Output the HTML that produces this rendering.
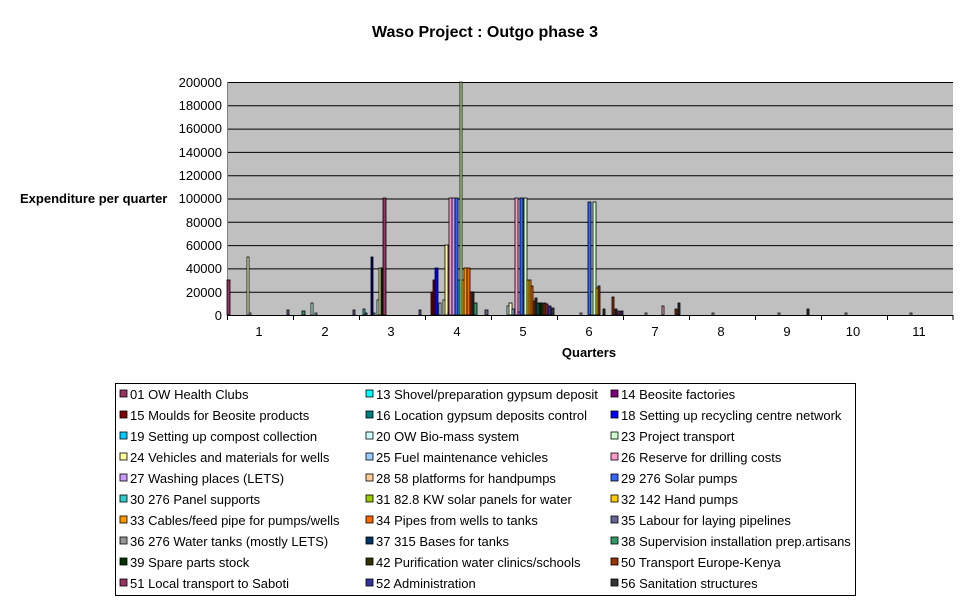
<!DOCTYPE html>
<html><head><meta charset="utf-8"><style>
body{margin:0;background:#fff;}
svg text{font-family:"Liberation Sans",Arial,sans-serif;}
</style></head><body>
<svg width="970" height="604" viewBox="0 0 970 604" xmlns="http://www.w3.org/2000/svg">
<rect width="970" height="604" fill="#fff"/>
<text x="485" y="37" font-size="16" font-weight="bold" text-anchor="middle">Waso Project : Outgo phase 3</text>
<rect x="227" y="82" width="726" height="233" fill="#c0c0c0"/>
<g stroke="#000" stroke-width="1">
<line x1="227" x2="953" y1="82.5" y2="82.5"/>
<line x1="227" x2="953" y1="105.8" y2="105.8"/>
<line x1="227" x2="953" y1="129.1" y2="129.1"/>
<line x1="227" x2="953" y1="152.4" y2="152.4"/>
<line x1="227" x2="953" y1="175.7" y2="175.7"/>
<line x1="227" x2="953" y1="199" y2="199"/>
<line x1="227" x2="953" y1="222.3" y2="222.3"/>
<line x1="227" x2="953" y1="245.6" y2="245.6"/>
<line x1="227" x2="953" y1="268.9" y2="268.9"/>
<line x1="227" x2="953" y1="292.2" y2="292.2"/>
</g>
<g stroke="#808080"><line x1="227.5" y1="82" x2="227.5" y2="315"/></g>
<g font-size="13" text-anchor="end">
<text x="222" y="87">200000</text><text x="222" y="110">180000</text><text x="222" y="133">160000</text>
<text x="222" y="157">140000</text><text x="222" y="180">120000</text><text x="222" y="203">100000</text>
<text x="222" y="227">80000</text><text x="222" y="250">60000</text><text x="222" y="273">40000</text>
<text x="222" y="297">20000</text><text x="222" y="320">0</text>
</g>
<g stroke="#000" stroke-width="0.8">
<rect x="227" y="280" width="3" height="35" fill="#993366"/>
<rect x="247" y="257" width="2" height="58" fill="#ffffcc"/>
<rect x="249" y="313" width="2" height="2" fill="#ccffff"/>
<rect x="287" y="310" width="2" height="5" fill="#666699"/>
<rect x="302" y="311" width="3" height="4" fill="#339966"/>
<rect x="311" y="303" width="2" height="12" fill="#ccffff"/>
<rect x="315" y="313" width="2" height="2" fill="#ccccff"/>
<rect x="353" y="310" width="2" height="5" fill="#666699"/>
<rect x="363" y="309" width="2" height="6" fill="#33cccc"/>
<rect x="365" y="313" width="2" height="2" fill="#008080"/>
<rect x="371" y="257" width="2" height="58" fill="#000080"/>
<rect x="373" y="313" width="2" height="2" fill="#33cccc"/>
<rect x="377" y="300" width="2" height="15" fill="#ccffff"/>
<rect x="379" y="268" width="2" height="47" fill="#ffff99"/>
<rect x="381" y="268" width="2" height="47" fill="#003300"/>
<rect x="383" y="198" width="3" height="117" fill="#993366"/>
<rect x="419" y="310" width="2" height="5" fill="#666699"/>
<rect x="431" y="292" width="2" height="23" fill="#800000"/>
<rect x="433" y="280" width="2" height="35" fill="#800000"/>
<rect x="435" y="268" width="3" height="47" fill="#0000ff"/>
<rect x="439" y="303" width="2" height="12" fill="#ccffff"/>
<rect x="443" y="300" width="2" height="15" fill="#ffffcc"/>
<rect x="445" y="245" width="3" height="70" fill="#ffff99"/>
<rect x="448" y="312" width="1" height="3" fill="#ccffff"/>
<rect x="449" y="198" width="3" height="117" fill="#ff99cc"/>
<rect x="452" y="198" width="3" height="117" fill="#cc99ff"/>
<rect x="455" y="198" width="3" height="117" fill="#3366ff"/>
<rect x="458" y="280" width="2" height="35" fill="#33cccc"/>
<rect x="460" y="82" width="2" height="233" fill="#ccff99"/>
<rect x="462" y="280" width="2" height="35" fill="#ffcc00"/>
<rect x="464" y="268" width="3" height="47" fill="#ff9900"/>
<rect x="467" y="268" width="3" height="47" fill="#ff6600"/>
<rect x="470" y="292" width="2" height="23" fill="#993300"/>
<rect x="472" y="292" width="2" height="23" fill="#333333"/>
<rect x="474" y="303" width="3" height="12" fill="#339966"/>
<rect x="485" y="310" width="3" height="5" fill="#666699"/>
<rect x="507" y="306" width="2" height="9" fill="#ccffff"/>
<rect x="509" y="303" width="3" height="12" fill="#ffffcc"/>
<rect x="512" y="309" width="2" height="6" fill="#99ccff"/>
<rect x="515" y="198" width="3" height="117" fill="#ff99cc"/>
<rect x="518" y="312" width="2" height="3" fill="#cc99ff"/>
<rect x="520" y="198" width="3" height="117" fill="#3366ff"/>
<rect x="524" y="198" width="3" height="117" fill="#ccffcc"/>
<rect x="527" y="280" width="2" height="35" fill="#ffcc00"/>
<rect x="529" y="280" width="2" height="35" fill="#ff9900"/>
<rect x="531" y="286" width="2" height="29" fill="#ff6600"/>
<rect x="533" y="301" width="2" height="14" fill="#993300"/>
<rect x="535" y="298" width="2" height="17" fill="#333333"/>
<rect x="537" y="303" width="2" height="12" fill="#008080"/>
<rect x="539" y="303" width="2" height="12" fill="#003300"/>
<rect x="541" y="303" width="2" height="12" fill="#333300"/>
<rect x="544" y="303" width="2" height="12" fill="#993300"/>
<rect x="546" y="304" width="2" height="11" fill="#993366"/>
<rect x="548" y="306" width="3" height="9" fill="#333399"/>
<rect x="551" y="308" width="3" height="7" fill="#333333"/>
<rect x="580" y="313" width="2" height="2" fill="#ccffff"/>
<rect x="588" y="202" width="3" height="113" fill="#3366ff"/>
<rect x="591" y="292" width="2" height="23" fill="#ccffcc"/>
<rect x="593" y="202" width="3" height="113" fill="#ccffcc"/>
<rect x="596" y="288" width="2" height="27" fill="#ffcc00"/>
<rect x="598" y="286" width="2" height="29" fill="#993300"/>
<rect x="603" y="309" width="2" height="6" fill="#333333"/>
<rect x="612" y="297" width="2" height="18" fill="#993300"/>
<rect x="615" y="309" width="2" height="6" fill="#333333"/>
<rect x="618" y="311" width="2" height="4" fill="#993366"/>
<rect x="621" y="311" width="2" height="4" fill="#333399"/>
<rect x="645" y="313" width="2" height="2" fill="#ccffff"/>
<rect x="662" y="306" width="2" height="9" fill="#ff99cc"/>
<rect x="675" y="309" width="2" height="6" fill="#993300"/>
<rect x="678" y="303" width="2" height="12" fill="#333333"/>
<rect x="712" y="313" width="2" height="2" fill="#ccffff"/>
<rect x="807" y="309" width="2" height="6" fill="#333333"/>
<rect x="778" y="313" width="2" height="2" fill="#ccffff"/>
<rect x="845" y="313" width="2" height="2" fill="#ccffff"/>
<rect x="910" y="313" width="2" height="2" fill="#ccffff"/>
</g>
<g stroke="#000"><line x1="227" y1="315.5" x2="953" y2="315.5"/>
<line x1="227.5" y1="315" x2="227.5" y2="320"/><line x1="293.5" y1="315" x2="293.5" y2="320"/><line x1="359.5" y1="315" x2="359.5" y2="320"/><line x1="425.5" y1="315" x2="425.5" y2="320"/><line x1="491.5" y1="315" x2="491.5" y2="320"/><line x1="557.5" y1="315" x2="557.5" y2="320"/><line x1="623.5" y1="315" x2="623.5" y2="320"/><line x1="689.5" y1="315" x2="689.5" y2="320"/><line x1="755.5" y1="315" x2="755.5" y2="320"/><line x1="821.5" y1="315" x2="821.5" y2="320"/><line x1="887.5" y1="315" x2="887.5" y2="320"/><line x1="953" y1="315" x2="953" y2="320"/></g>
<g font-size="13" text-anchor="middle">
<text x="259" y="336">1</text><text x="325" y="336">2</text><text x="391" y="336">3</text><text x="457" y="336">4</text><text x="523" y="336">5</text><text x="589" y="336">6</text><text x="655" y="336">7</text><text x="721" y="336">8</text><text x="787" y="336">9</text><text x="853" y="336">10</text><text x="919" y="336">11</text>
</g>
<text x="589" y="357" font-size="13" font-weight="bold" text-anchor="middle">Quarters</text>
<text x="20" y="203" font-size="13" font-weight="bold">Expenditure per quarter</text>
<rect x="115.5" y="383.5" width="740" height="212" fill="#fff" stroke="#000"/>
<g stroke="#000" stroke-width="0.8">
<g transform="translate(120,0)">
<rect x="0" y="390" width="7" height="7" fill="#993366"/><rect x="0" y="411" width="7" height="7" fill="#800000"/><rect x="0" y="432" width="7" height="7" fill="#00ccff"/><rect x="0" y="453" width="7" height="7" fill="#ffff99"/><rect x="0" y="474" width="7" height="7" fill="#cc99ff"/><rect x="0" y="495" width="7" height="7" fill="#33cccc"/><rect x="0" y="516" width="7" height="7" fill="#ff9900"/><rect x="0" y="537" width="7" height="7" fill="#969696"/><rect x="0" y="558" width="7" height="7" fill="#003300"/><rect x="0" y="579" width="7" height="7" fill="#993366"/>
</g>
<g transform="translate(366,0)">
<rect x="0" y="390" width="7" height="7" fill="#00ffff"/><rect x="0" y="411" width="7" height="7" fill="#008080"/><rect x="0" y="432" width="7" height="7" fill="#ccffff"/><rect x="0" y="453" width="7" height="7" fill="#99ccff"/><rect x="0" y="474" width="7" height="7" fill="#ffcc99"/><rect x="0" y="495" width="7" height="7" fill="#99cc00"/><rect x="0" y="516" width="7" height="7" fill="#ff6600"/><rect x="0" y="537" width="7" height="7" fill="#003366"/><rect x="0" y="558" width="7" height="7" fill="#333300"/><rect x="0" y="579" width="7" height="7" fill="#333399"/>
</g>
<g transform="translate(611,0)">
<rect x="0" y="390" width="7" height="7" fill="#800080"/><rect x="0" y="411" width="7" height="7" fill="#0000ff"/><rect x="0" y="432" width="7" height="7" fill="#ccffcc"/><rect x="0" y="453" width="7" height="7" fill="#ff99cc"/><rect x="0" y="474" width="7" height="7" fill="#3366ff"/><rect x="0" y="495" width="7" height="7" fill="#ffcc00"/><rect x="0" y="516" width="7" height="7" fill="#666699"/><rect x="0" y="537" width="7" height="7" fill="#339966"/><rect x="0" y="558" width="7" height="7" fill="#993300"/><rect x="0" y="579" width="7" height="7" fill="#333333"/>
</g>
</g>
<g font-size="13">
<g transform="translate(130,0)">
<text y="399">01 OW Health Clubs</text><text y="420">15 Moulds for Beosite products</text><text y="441">19 Setting up compost collection</text><text y="462">24 Vehicles and materials for wells</text><text y="483">27 Washing places (LETS)</text><text y="504">30 276 Panel supports</text><text y="525">33 Cables/feed pipe for pumps/wells</text><text y="546">36 276 Water tanks (mostly LETS)</text><text y="567">39 Spare parts stock</text><text y="588">51 Local transport to Saboti</text>
</g>
<g transform="translate(376,0)">
<text y="399">13 Shovel/preparation gypsum deposit</text><text y="420">16 Location gypsum deposits control</text><text y="441">20 OW Bio-mass system</text><text y="462">25 Fuel maintenance vehicles</text><text y="483">28 58 platforms for handpumps</text><text y="504">31 82.8 KW solar panels for water</text><text y="525">34 Pipes from wells to tanks</text><text y="546">37 315 Bases for tanks</text><text y="567">42 Purification water clinics/schools</text><text y="588">52 Administration</text>
</g>
<g transform="translate(621,0)">
<text y="399">14 Beosite factories</text><text y="420">18 Setting up recycling centre network</text><text y="441">23 Project transport</text><text y="462">26 Reserve for drilling costs</text><text y="483">29 276 Solar pumps</text><text y="504">32 142 Hand pumps</text><text y="525">35 Labour for laying pipelines</text><text y="546">38 Supervision installation prep.artisans</text><text y="567">50 Transport Europe-Kenya</text><text y="588">56 Sanitation structures</text>
</g>
</g>
</svg>
</body></html>
